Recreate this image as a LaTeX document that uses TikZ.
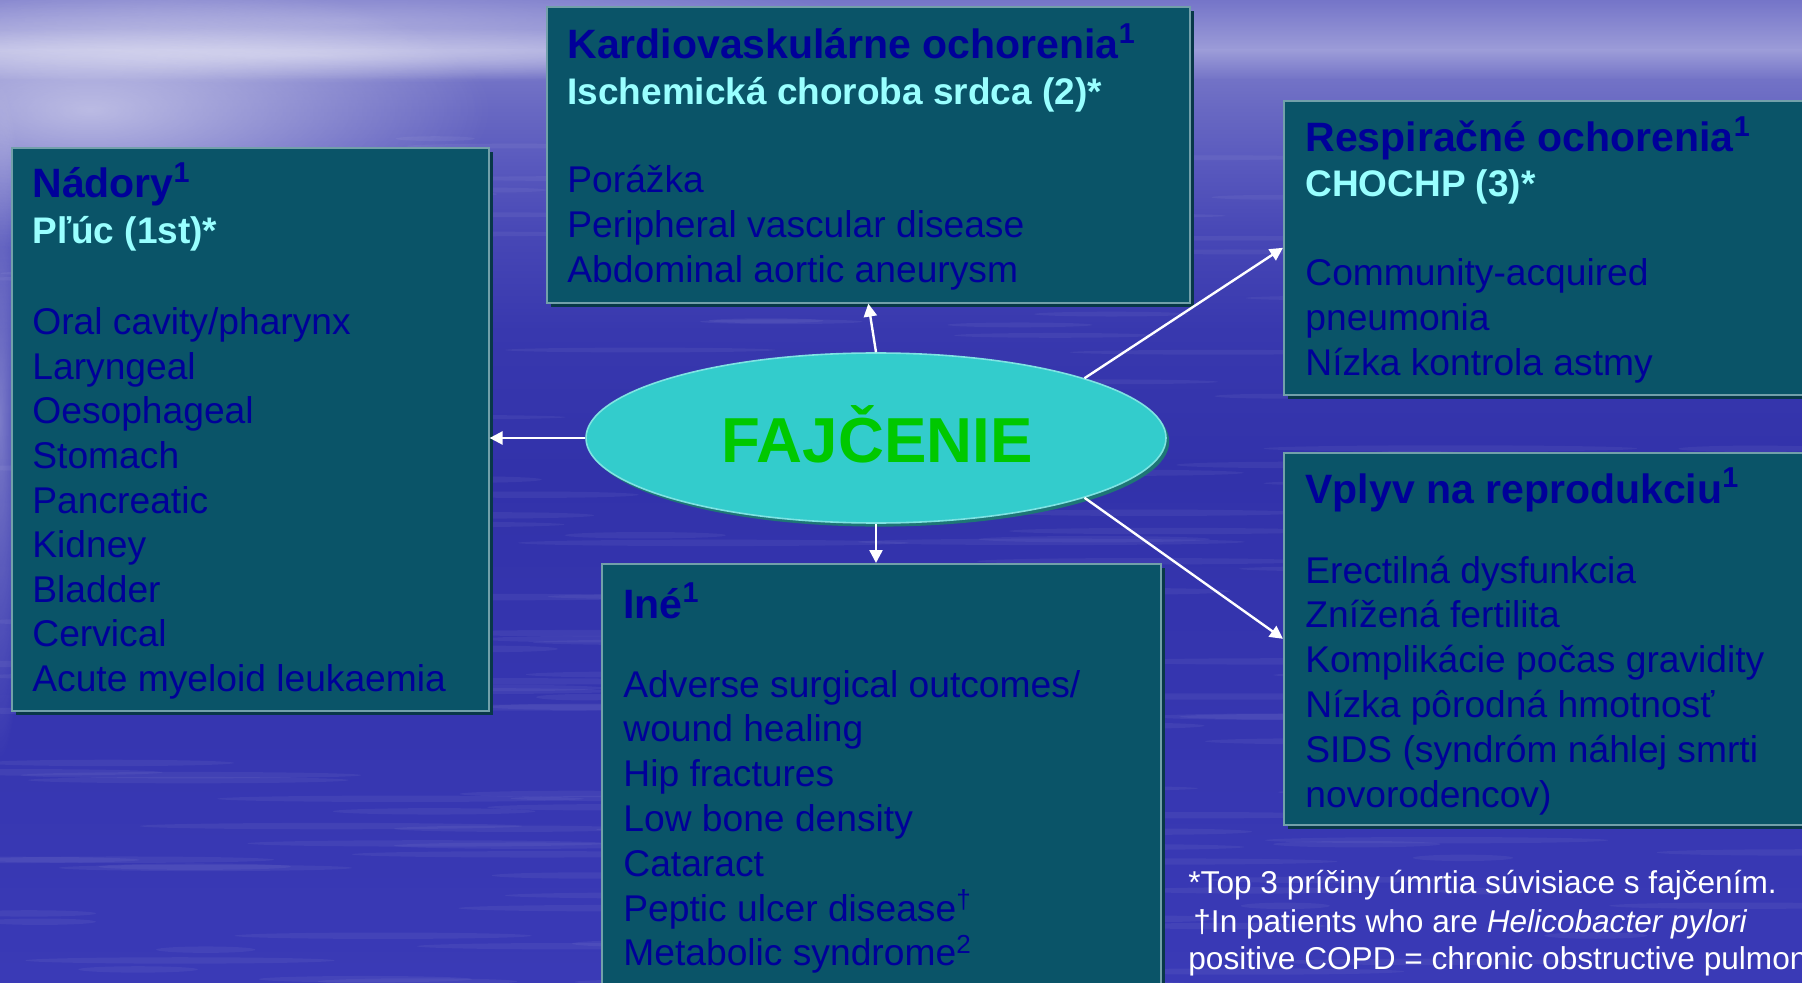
\documentclass[tikz,border=0pt]{standalone}
\usepackage{fontspec}
\setmainfont{Liberation Sans}
\usetikzlibrary{arrows.meta,shadows,shapes.geometric,fadings,calc}

\definecolor{bgA}{HTML}{7474C8}
\definecolor{bgB}{HTML}{9C9CD8}
\definecolor{bgC}{HTML}{7272C6}
\definecolor{bgD}{HTML}{6868C2}
\definecolor{bgE}{HTML}{5A5ABE}
\definecolor{bgF}{HTML}{4848B6}
\definecolor{bgG}{HTML}{3838AE}
\definecolor{bgH}{HTML}{3232AA}
\definecolor{bgI}{HTML}{3A3AB6}
\definecolor{boxfill}{HTML}{0A5468}
\definecolor{boxedge}{HTML}{72A0AA}
\definecolor{boxshadow}{HTML}{083848}
\definecolor{itemblue}{HTML}{000099}
\definecolor{subcyan}{HTML}{99FFFF}
\definecolor{ellfill}{HTML}{33CCCC}
\definecolor{elledge}{HTML}{7FE3E3}
\definecolor{ellshadow}{HTML}{1E7676}
\definecolor{fgreen}{HTML}{00C800}

\tikzfading[name=glowfade, inner color=transparent!0, outer color=transparent!100]

\tikzset{
  panel/.style={rectangle, anchor=north west, inner sep=0pt, fill=boxfill, draw=boxedge, line width=0.8pt,
    drop shadow={shadow xshift=2pt, shadow yshift=-2pt, fill=boxshadow, opacity=1}},
  hd/.style={anchor=base west, inner sep=0pt, text=itemblue, font=\bfseries\fontsize{20.5}{24}\selectfont},
  sub/.style={anchor=base west, inner sep=0pt, text=subcyan, font=\bfseries\fontsize{18.5}{22}\selectfont},
  item/.style={anchor=base west, inner sep=0pt, text=itemblue, font=\fontsize{18.6}{22}\selectfont},
  note/.style={anchor=base west, inner sep=0pt, text=white, font=\fontsize{15.8}{19}\selectfont},
  arr/.style={draw=white, line width=1.2pt, -{Triangle[length=6.5pt, width=6.5pt]}},
}

\begin{document}
\begin{tikzpicture}[x=0.5pt, y=-0.5pt]
\useasboundingbox (0,0) rectangle (1802,983);
\begin{scope}
\clip (0,0) rectangle (1802,983);
% background bands
\shade[top color=bgA, bottom color=bgB] (0,-1) rectangle (1802,50.5);
\shade[top color=bgB, bottom color=bgC] (0,50) rectangle (1802,80.5);
\shade[top color=bgC, bottom color=bgD] (0,80) rectangle (1802,110.5);
\shade[top color=bgD, bottom color=bgE] (0,110) rectangle (1802,160.5);
\shade[top color=bgE, bottom color=bgF] (0,160) rectangle (1802,230.5);
\shade[top color=bgF, bottom color=bgG] (0,230) rectangle (1802,330.5);
\shade[top color=bgG, bottom color=bgH] (0,330) rectangle (1802,470.5);
\shade[top color=bgH, bottom color=bgI] (0,470) rectangle (1802,984);
% light areas
\fill[white, opacity=0.55, path fading=glowfade] (90,110) ellipse [x radius=200pt, y radius=70pt];
\fill[white, opacity=0.35, path fading=glowfade] (300,55) ellipse [x radius=330pt, y radius=14pt];
\fill[white, opacity=0.25, path fading=glowfade] (350,20) ellipse [x radius=250pt, y radius=30pt];
\fill[white, opacity=0.35, path fading=glowfade] (0,420) ellipse [x radius=14pt, y radius=170pt];
\pgfmathsetseed{5}
\foreach \i in {1,...,60}{
  \pgfmathsetmacro\sx{rnd*1802}
  \pgfmathsetmacro\sy{120+rnd*300}
  \pgfmathsetmacro\sw{15+rnd*60}
  \fill[white, opacity=0.05] (\sx,\sy) ellipse [x radius=\sw pt, y radius=1.2pt];
}
\foreach \i in {1,...,160}{
  \pgfmathsetmacro\sx{rnd*1802}
  \pgfmathsetmacro\sy{420+rnd*570}
  \pgfmathsetmacro\sw{20+rnd*80}
  \fill[white, opacity=0.05] (\sx,\sy) ellipse [x radius=\sw pt, y radius=1.6pt];
}

% panels
\node[panel, minimum width=238.5pt, minimum height=281.5pt] (nad) at (11,147) {};
\node[panel, minimum width=321.5pt, minimum height=148pt] (kar) at (546,6) {};
\node[panel, minimum width=265pt, minimum height=147pt] (res) at (1283,100) {};
\node[panel, minimum width=265pt, minimum height=186pt] (vpl) at (1283,452) {};
\node[panel, minimum width=279.5pt, minimum height=220pt] (ine) at (601,563) {};

% central ellipse
\node[ellipse, minimum width=290pt, minimum height=85pt, inner sep=0pt, fill=ellfill, draw=elledge, line width=0.8pt,
  drop shadow={shadow xshift=1.6pt, shadow yshift=-1.8pt, fill=ellshadow, opacity=1}] (fj) at (876,438) {};
\node[anchor=base, inner sep=0pt, text=fgreen, font=\bfseries\fontsize{31.8}{36}\selectfont] (fjt) at (877,463) {FAJČENIE};

% arrows
\draw[arr] (fj.west) -- (fj.west -| nad.east);
\draw[arr] (fj.north) -- (kar.south);
\draw[arr] (fj.south) -- (fj.south |- ine.north);
\draw[arr] (fj.16) -- (res.west);
\draw[arr] (fj.-16) -- (vpl.west);

% Nádory
\node[hd] (nadh) at (32,198) {Nádory\textsuperscript{1}};
\node[sub] (nads) at (32,244) {Pľúc (1st)*};
\foreach \t [count=\i from 0] in {{Oral cavity/pharynx},{Laryngeal},{Oesophageal},{Stomach},{Pancreatic},{Kidney},{Bladder},{Cervical},{Acute myeloid leukaemia}}
  \node[item] (nad-\i) at (32,335+44.5*\i) {\t};

% Kardiovaskularne
\node[hd] (karh) at (567,59) {Kardiovaskulárne ochorenia\textsuperscript{1}};
\node[sub] (kars) at (567,105) {Ischemická choroba srdca (2)*};
\foreach \t [count=\i from 0] in {{Porážka},{Peripheral vascular disease},{Abdominal aortic aneurysm}}
  \node[item] (kar-\i) at (567,193+45*\i) {\t};

% Respiracne
\node[hd] (resh) at (1305,152) {Respiračné ochorenia\textsuperscript{1}};
\node[sub] (ress) at (1305,197) {CHOCHP (3)*};
\foreach \t [count=\i from 0] in {{Community-acquired},{pneumonia},{Nízka kontrola astmy}}
  \node[item] (res-\i) at (1305,286+45*\i) {\t};

% Vplyv
\node[hd] (vplh) at (1305,503) {Vplyv na reprodukciu\textsuperscript{1}};
\foreach \t [count=\i from 0] in {{Erectilná dysfunkcia},{Znížená fertilita},{Komplikácie počas gravidity},{Nízka pôrodná hmotnosť},{SIDS (syndróm náhlej smrti},{novorodencov)}}
  \node[item] (vpl-\i) at (1305,583+44.8*\i) {\t};

% Ine
\node[hd] (ineh) at (623,618) {Iné\textsuperscript{1}};
\foreach \t [count=\i from 0] in {{Adverse surgical outcomes/},{wound healing},{Hip fractures},{Low bone density},{Cataract},{Peptic ulcer disease\textsuperscript{†}},{Metabolic syndrome\textsuperscript{2}}}
  \node[item] (ine-\i) at (623,697+44.8*\i) {\t};

% footnote
\node[note] (fn1) at (1188,893) {*Top 3 príčiny úmrtia súvisiace s fajčením.};
\node[note] (fn2) at (1193,932) {†In patients who are \textit{Helicobacter pylori}};
\node[note] (fn3) at (1188,969) {positive COPD = chronic obstructive pulmonary disease};
\end{scope}
\end{tikzpicture}
\end{document}
